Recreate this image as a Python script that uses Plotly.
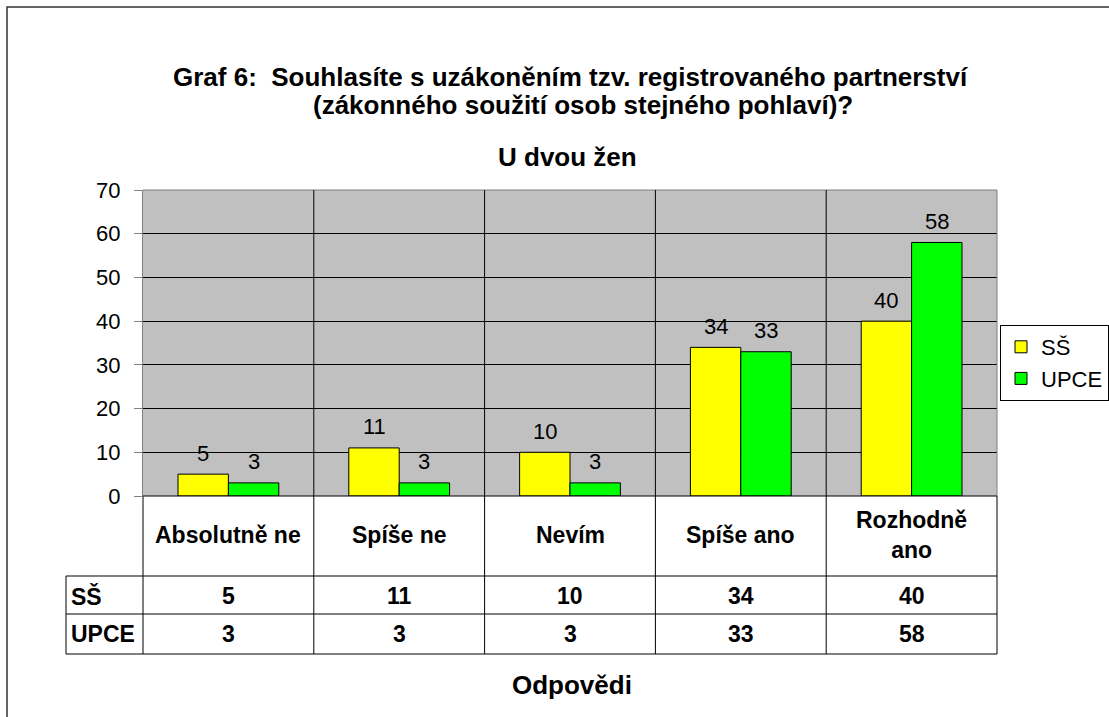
import plotly.graph_objects as go

categories = ["Absolutně ne", "Spíše ne", "Nevím", "Spíše ano", "Rozhodně ano"]
category_labels = ["Absolutně ne", "Spíše ne", "Nevím", "Spíše ano", "Rozhodně<br>ano"]
series_names = ["SŠ", "UPCE"]
ss_values = [5, 11, 10, 34, 40]
upce_values = [3, 3, 3, 33, 58]
y_ticks = [0, 10, 20, 30, 40, 50, 60, 70]

W, H = 1109, 717
L, R, T, B = 143, 112, 190, 221
PW, PH = W - L - R, H - T - B

def px_x(x):
    return (x - L) / PW

def px_y(y):
    return (H - B - y) / PH

FONT = "Arial, Liberation Sans, sans-serif"
colors = ["#FFFF00", "#00FF00"]
series_values = [ss_values, upce_values]

fig = go.Figure()
for i, (name, vals) in enumerate(zip(series_names, series_values)):
    fig.add_trace(go.Bar(
        x=categories, y=vals, name=name, legendgroup=name,
        marker=dict(color=colors[i], line=dict(color="black", width=1)),
    ))

n = len(categories)
bargap = 0.41
bw = (1 - bargap) / 2
annotations = []

def note(x, y, text, size, bold=False, xanchor="center", xref="paper", yref="paper", yshift=0):
    f = dict(size=size, color="black", family=FONT)
    if bold:
        f["weight"] = "bold"
    annotations.append(dict(x=x, y=y, xref=xref, yref=yref, text=text, showarrow=False,
                            xanchor=xanchor, yanchor="middle", yshift=yshift, font=f))

for i, vals in enumerate(series_values):
    off = (-bw / 2) if i == 0 else (bw / 2)
    for j, v in enumerate(vals):
        note(j + off, v, str(v), 22, xref="x", yref="y", yshift=21)

# titles
note(px_x(570), px_y(77), "Graf 6:\u00a0\u00a0Souhlasíte s uzákoněním tzv. registrovaného partnerství", 26, True)
note(px_x(583), px_y(105), "(zákonného soužití osob stejného pohlaví)?", 26, True)
note(px_x(567), px_y(157), "U dvou žen", 26, True)
note(px_x(572), px_y(685), "Odpovědi", 26, True)

# data table
row_y = [px_y(596), px_y(634)]
for j, lab in enumerate(category_labels):
    note((j + 0.5) / n, px_y(535), lab, 23, True)
for i, (name, vals) in enumerate(zip(series_names, series_values)):
    note(px_x(69), row_y[i], name, 23, True, xanchor="left")
    for j, v in enumerate(vals):
        note((j + 0.5) / n, row_y[i], str(v), 23, True)

shapes = []
def line(x0, y0, x1, y1, color="black", width=1):
    shapes.append(dict(type="line", xref="paper", yref="paper", x0=x0, y0=y0, x1=x1, y1=y1,
                       line=dict(color=color, width=width)))

# plot border (gray)
line(0, 1, 1, 1, "#808080")
line(1, 0, 1, 1, "#808080")
ty1, ty2, ty3 = px_y(576), px_y(614), px_y(654)
tx0 = px_x(66)
# category dividers through plot and table
for k in range(1, n):
    line(k / n, ty3, k / n, 1, "black")
line(0, ty3, 0, 0, "black")
line(1, ty3, 1, 0, "black")
line(tx0, ty3, tx0, ty1, "black")
line(0, 0, 1, 0, "black")
for yy in (ty1, ty2, ty3):
    line(tx0, yy, 1, yy, "black")
# outer chart border
shapes.append(dict(type="rect", xref="paper", yref="paper",
                   x0=px_x(7), y0=px_y(740), x1=px_x(1130), y1=px_y(7),
                   line=dict(color="#333333", width=1.5)))

fig.update_layout(
    width=W, height=H,
    margin=dict(l=L, r=R, t=T, b=B, autoexpand=False),
    paper_bgcolor="white", plot_bgcolor="#C0C0C0",
    barmode="group", bargap=bargap, bargroupgap=0,
    font=dict(family=FONT, color="black", size=22),
    xaxis=dict(showticklabels=False, showgrid=False, zeroline=False, showline=False,
               ticks="", range=[-0.5, n - 0.5]),
    yaxis=dict(range=[0, 70], tickvals=y_ticks, showgrid=True, gridcolor="black", gridwidth=1,
               zeroline=False, showline=True, linecolor="#808080", linewidth=1,
               ticks="outside", ticklen=8, tickcolor="#808080", ticklabelstandoff=9,
               tickfont=dict(size=22, color="black", family=FONT)),
    legend=dict(x=px_x(1000), y=px_y(325), xanchor="left", yanchor="top",
                bordercolor="black", borderwidth=1, bgcolor="white",
                font=dict(size=22, color="black", family=FONT),
                itemwidth=30, tracegroupgap=10, traceorder="normal"),
    showlegend=True,
    annotations=annotations, shapes=shapes,
)

fig.write_html("out.html", config={"displayModeBar": False},
               post_script="document.body.style.margin='0';document.body.style.overflow='hidden';")
